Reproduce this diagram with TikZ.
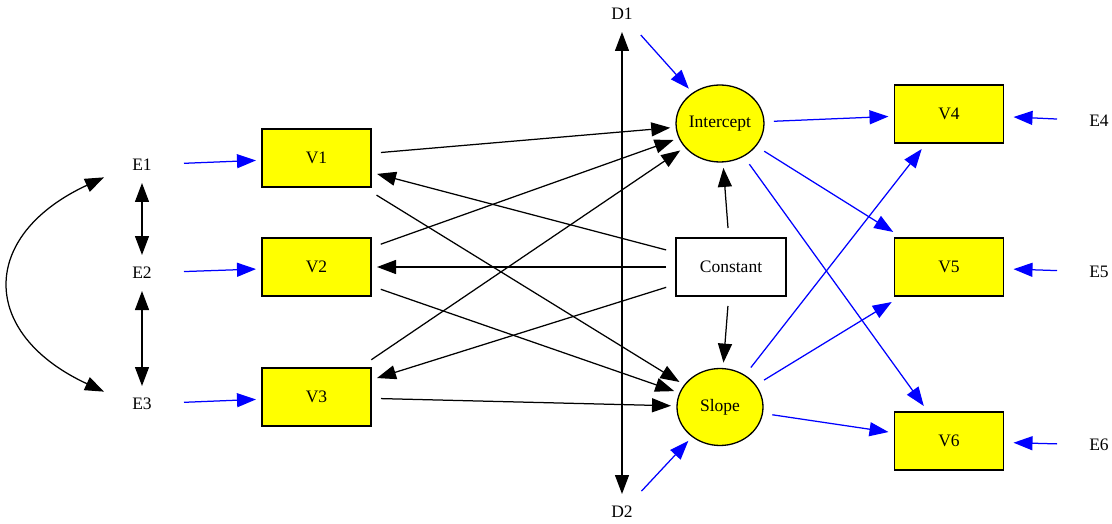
\documentclass[tikz,border=0pt]{standalone}
\usepackage{fontspec}
\setmainfont{Liberation Serif}
\usetikzlibrary{shapes.geometric,arrows.meta}
\definecolor{boxyellow}{RGB}{255,255,0}
\definecolor{pathblue}{RGB}{0,0,255}
\begin{document}
\begin{tikzpicture}[x=1pt,y=-1pt,
  font=\fontsize{17.5}{20}\selectfont,
  obs/.style={draw=black,line width=1.3pt,fill=boxyellow,minimum width=109pt,
    minimum height=58pt,inner sep=0pt,outer sep=6pt},
  lat/.style={ellipse,draw=black,line width=1.3pt,fill=boxyellow,minimum width=86pt,
    minimum height=77pt,inner sep=0pt,outer sep=6pt},
  cst/.style={draw=black,line width=1.3pt,fill=white,minimum width=110pt,
    minimum height=58pt,inner sep=0pt,outer sep=6pt},
  err/.style={minimum width=64pt,minimum height=24pt,inner sep=0pt,outer sep=6pt},
  tipx/.tip={Triangle[length=19pt,width=14pt]},
  blk/.style={-tipx,line width=1.25pt,draw=black,shorten <=4pt},
  blu/.style={-tipx,line width=1.25pt,draw=pathblue,shorten <=4pt},
  dbl/.style={tipx-tipx,line width=1.25pt,draw=black}]
\useasboundingbox (0,0) rectangle (1112,524);

% error terms of the indicators
\node[err] (E1) at (142,165) {E1};
\node[err] (E2) at (142,273) {E2};
\node[err] (E3) at (142,404) {E3};
\node[err] (E4) at (1099,121) {E4};
\node[err] (E5) at (1099,272) {E5};
\node[err] (E6) at (1099,445) {E6};

% disturbances of the growth factors
\node[err] (D1) at (622,14) {D1};
\node[err] (D2) at (622,512) {D2};

% observed variables
\node[obs] (V1) at (316.5,158) {V1};
\node[obs] (V2) at (316.5,267) {V2};
\node[obs] (V3) at (316.5,397) {V3};
\node[obs] (V4) at (949,114) {V4};
\node[obs] (V5) at (949,267) {V5};
\node[obs] (V6) at (949,441) {V6};

% latent growth factors and the constant
\node[lat] (I) at (720,123.5) {Intercept};
\node[lat] (S) at (720,407) {Slope};
\node[cst] (C) at (731,267) {Constant};

% residual paths
\draw[blu] (E1) -- (V1);
\draw[blu] (E2) -- (V2);
\draw[blu] (E3) -- (V3);
\draw[blu,shorten >=4pt] (E4) -- (V4);
\draw[blu,shorten >=4pt] (E5) -- (V5);
\draw[blu,shorten >=4pt] (E6) -- (V6);
\draw[blu] (D1) -- (I);
\draw[blu] (D2) -- (S);

% covariances
\draw[dbl] (E1) -- (E2);
\draw[dbl] (E2) -- (E3);
\draw[dbl] (E1.198) .. controls +(-125,58) and +(-125,-58) .. (E3.162);
\draw[dbl] (D1) -- (D2);

% predictors of the growth factors
\draw[blk] (V1) -- (I);
\draw[blk] (V2) -- (I);
\draw[blk] (V3) -- (I);
\draw[blk] (V1) -- (S);
\draw[blk] (V2) -- (S);
\draw[blk] (V3) -- (S);

% means
\draw[blk] (C) -- (V1);
\draw[blk] (C) -- (V2);
\draw[blk] (C) -- (V3);
\draw[blk] (C) -- (I);
\draw[blk] (C) -- (S);

% loadings
\draw[blu] (I) -- (V4);
\draw[blu] (I) -- (V5);
\draw[blu] (I) -- (V6);
\draw[blu] (S) -- (V4);
\draw[blu] (S) -- (V5);
\draw[blu] (S) -- (V6);
\end{tikzpicture}
\end{document}
